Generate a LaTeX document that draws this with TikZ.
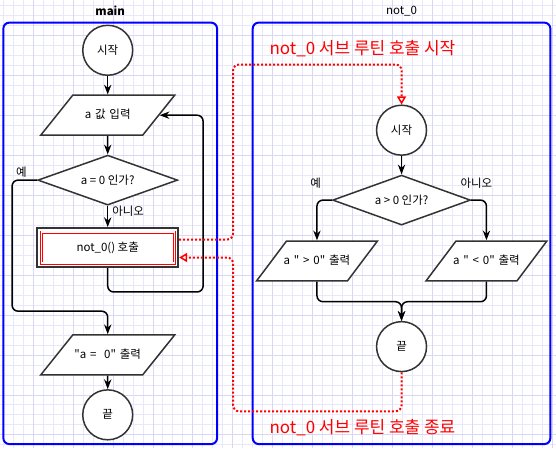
\documentclass[tikz,border=0pt]{standalone}
\usepackage{fontspec}
\setmainfont{Noto Sans CJK KR}[Ligatures=TeXOff]
\usetikzlibrary{arrows.meta,positioning,shapes.geometric,calc}
\definecolor{edgegray}{HTML}{333333}
\definecolor{frameblue}{HTML}{0000FF}
\definecolor{gridlight}{HTML}{E8E8FA}
\definecolor{griddark}{HTML}{D8D8F5}
\definecolor{callred}{HTML}{FF0000}

\begin{document}
\begin{tikzpicture}[x=1pt, y=-1pt, >=Stealth, font=\fontsize{11.5}{13}\selectfont,
  frame/.style={draw=frameblue, line width=2pt, rounded corners=6pt, inner sep=0pt},
  termnode/.style={circle, draw=edgegray, line width=1.5pt, fill=white, minimum size=50pt, inner sep=0pt},
  ionode/.style={trapezium, trapezium left angle=51.3, trapezium right angle=128.7,
    draw=edgegray, line width=1.5pt, fill=white, text width=90pt, align=center,
    text height=10pt, text depth=3pt, inner ysep=13.5pt, inner xsep=-10pt},
  smallio/.style={ionode, trapezium left angle=53.1, trapezium right angle=126.9, inner xsep=-14.5pt},
  testnode/.style={diamond, aspect=2.8, draw=edgegray, line width=1.5pt, fill=white,
    minimum width=140pt, minimum height=50pt, inner sep=0pt},
  subnode/.style={rectangle, draw=edgegray, line width=2pt, fill=white,
    minimum width=141pt, minimum height=39pt, inner sep=0pt,
    path picture={\draw[callred, line width=0.9pt, double=white, double distance=1.2pt]
      ([shift={(4,4)}]path picture bounding box.north west) rectangle
      ([shift={(-4,-4)}]path picture bounding box.south east);}},
  flow/.style={->, line width=1.5pt, rounded corners=6pt},
  callline/.style={callred, line width=2pt, dash pattern=on 2pt off 2pt, rounded corners=6pt,
    -{Triangle[open, length=8pt, width=9pt, fill=white, line width=1.5pt]}},
  note/.style={text=callred, font=\fontsize{17}{19}\selectfont, anchor=west}]

  % background grid
  \fill[white] (0,0) rectangle (556,448);
  \foreach \gx in {2.7,12.7,...,556} \draw[gridlight, line width=0.7pt] (\gx,0) -- (\gx,448);
  \foreach \gy in {5,15,...,448} \draw[gridlight, line width=0.7pt] (0,\gy) -- (556,\gy);
  \foreach \gx in {32.7,72.7,...,556} \draw[griddark, line width=0.7pt] (\gx,0) -- (\gx,448);
  \foreach \gy in {35,75,...,448} \draw[griddark, line width=0.7pt] (0,\gy) -- (556,\gy);
  \useasboundingbox (0,0) rectangle (556,448);

  % containers
  \node[frame, minimum width=214pt, minimum height=422pt] (mainbox) at (110,233.3) {};
  \node[frame, minimum width=298pt, minimum height=422pt] (subbox) at (401.7,233.3) {};
  \node[above=2pt of mainbox.north, font=\fontsize{11.5}{13}\selectfont\bfseries] {main};
  \node[above=2pt of subbox.north] {not\_0};

  % main routine
  \node[termnode] (start1) at (107.5,50) {시작};
  \node[ionode] (input1) at (107.5,115) {a 값 입력};
  \node[testnode] (test1) at (107.5,180) {a = 0 인가?};
  \node[subnode] (call) at (107.5,247.5) {not\_0() 호출};
  \node[ionode] (print1) at (107.5,355) {"a =\ \ 0" 출력};
  \node[termnode] (end1) at (107.5,415) {끝};
  \node (yes1) at (21,172) {예};
  \node (no1) at (128,211) {아니오};

  \draw[flow] (start1) -- (input1);
  \draw[flow] (input1) -- (test1);
  \draw[flow] (test1) -- (call);
  \draw[flow] (test1.west) -- ++(-25,0) |- ($(print1.north)+(0,-23)$) -- (print1.north);
  \draw[flow] (call.south) -- ++(0,24) -- ++(95.5,0) |- (input1.east);
  \draw[flow] (print1) -- (end1);

  % not_0 routine
  \node[termnode] (start2) at (401.7,130) {시작};
  \node[testnode, minimum width=138pt] (test2) at (401.7,200) {a > 0 인가?};
  \node[smallio] (pos2) at (317,261) {a " > 0" 출력};
  \node[smallio] (neg2) at (486.7,261) {a " < 0" 출력};
  \node[termnode] (end2) at (401.7,346.7) {끝};
  \node (yes2) at (315.7,183) {예};
  \node (no2) at (476.7,183) {아니오};

  \draw[flow] (start2) -- (test2);
  \draw[flow] (test2.west) -| (pos2.north);
  \draw[flow] (test2.east) -| (neg2.north);
  \draw[flow] (pos2.south) -- ++(0,20) -| (end2.north);
  \draw[flow] (neg2.south) -- ++(0,20) -| (end2.north);

  % subroutine call and return
  \draw[callline] ([yshift=8pt]call.east) -- ++(54,0) |- ($(start2.north)+(0,-40)$) -- (start2.north);
  \draw[callline] (end2.south) -- ++(0,39) -| ([xshift=54pt,yshift=-10pt]call.east) -- ([yshift=-10pt]call.east);
  \node[note] (callnote) at (266,48) {not\_0 서브 루틴 호출 시작};
  \node[note] (retnote) at (266,428) {not\_0 서브 루틴 호출 종료};
\end{tikzpicture}
\end{document}
